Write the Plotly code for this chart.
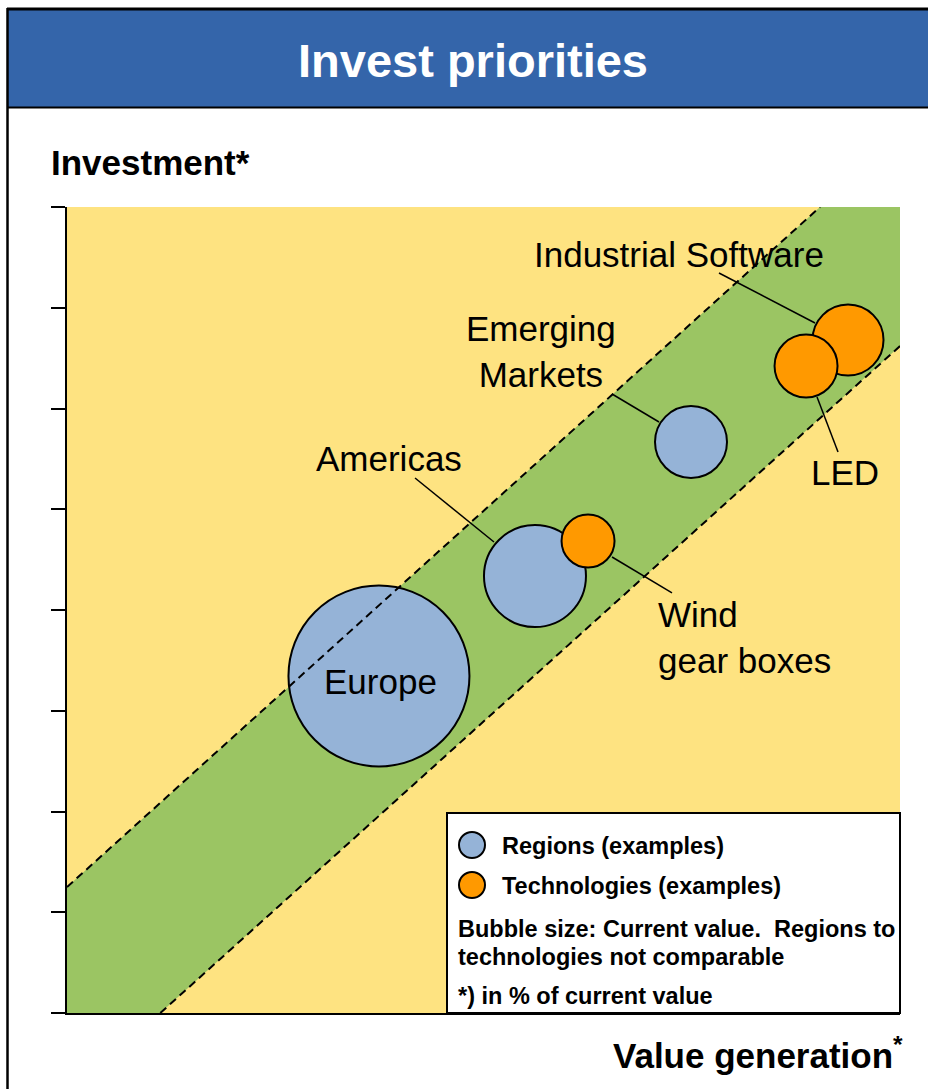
"""
Invest priorities - bubble chart of regions vs technologies.
Value generation (x) against investment (y), bubble size = current value.
"""

import plotly.graph_objects as go

# ---------------------------------------------------------------------------
# Data
# ---------------------------------------------------------------------------

X_MAX = 10.0
Y_MAX = 8.0
Y_TICKS = [0, 1, 2, 3, 4, 5, 6, 7, 8]

region_names = ["Europe", "Americas", "Emerging Markets"]
region_x = [3.745, 5.618, 7.491]
region_y = [3.345, 4.337, 5.667]
region_value = [181, 102, 72]

tech_names = ["Wind gear boxes", "Industrial Software", "LED"]
tech_x = [6.255, 9.376, 8.872]
tech_y = [4.685, 6.680, 6.422]
tech_value = [53, 71, 63]

# green "corridor" edges
band_upper_x = [0.0, 9.04]
band_upper_y = [1.25, 8.0]
band_lower_x = [1.12, 10.0]
band_lower_y = [0.0, 6.62]

# label text, anchor and leader line (label end -> bubble end)
labels = [
    ("Industrial Software", 7.347, 7.533, "center", (7.827, 7.345, 8.980, 6.849)),
    ("Emerging<br>Markets", 5.690, 6.561, "center", (6.543, 6.144, 7.107, 5.866)),
    ("Americas", 3.866, 5.499, "center", (4.178, 5.310, 5.126, 4.675)),
    ("Wind<br>gear boxes", 7.071, 3.732, "left", (6.543, 4.526, 7.263, 4.169)),
    ("LED", 9.340, 5.360, "center", (9.004, 6.114, 9.256, 5.568)),
    ("Europe", 3.758, 3.295, "center", None),
]

# ---------------------------------------------------------------------------
# Styling
# ---------------------------------------------------------------------------

FONT = "Liberation Sans, Arial, sans-serif"
YELLOW = "#FEE381"
GREEN = "#9BC563"
BLUE = "#95B3D7"
ORANGE = "#FF9900"
HEADER = "#3465AA"

# screen pixel geometry of the plot area
PLOT_L, PLOT_R, PLOT_T, PLOT_B = 67, 900, 207, 1013
FIG_W, FIG_H = 928, 1089


def px_x(sx: float) -> float:
    """Screen x pixel -> paper x."""
    return (sx - PLOT_L) / (PLOT_R - PLOT_L)


def px_y(sy: float) -> float:
    """Screen y pixel -> paper y."""
    return (PLOT_B - sy) / (PLOT_B - PLOT_T)


def paper_text(text, sx, sy, size, color="black", xanchor="left"):
    """Annotation placed in screen pixels (paper refs)."""
    fig.add_annotation(
        xref="paper", yref="paper", x=px_x(sx), y=px_y(sy),
        xanchor=xanchor, yanchor="middle", text=text, showarrow=False,
        font=dict(family=FONT, size=size, color=color),
    )


def paper_line(x0, y0, x1, y1, width):
    fig.add_shape(type="line", xref="paper", yref="paper",
                  x0=px_x(x0), x1=px_x(x1), y0=px_y(y0), y1=px_y(y1),
                  line=dict(color="black", width=width), layer="above")


fig = go.Figure()

# corridor polygon
poly_x = band_upper_x + [X_MAX] + band_lower_x[::-1] + [0.0]
poly_y = band_upper_y + [Y_MAX] + band_lower_y[::-1] + [0.0]
fig.add_trace(go.Scatter(
    x=poly_x, y=poly_y, fill="toself", fillcolor=GREEN,
    mode="lines", line=dict(width=0), hoverinfo="skip", showlegend=False,
))

# bubbles
fig.add_trace(go.Scatter(
    x=region_x, y=region_y, mode="markers", text=region_names,
    marker=dict(size=region_value, sizemode="diameter", sizeref=1,
                color=BLUE, opacity=1, line=dict(color="black", width=2)),
    showlegend=False, hoverinfo="text",
))
fig.add_trace(go.Scatter(
    x=tech_x, y=tech_y, mode="markers", text=tech_names,
    marker=dict(size=tech_value, sizemode="diameter", sizeref=1,
                color=ORANGE, opacity=1, line=dict(color="black", width=2)),
    showlegend=False, hoverinfo="text",
))

# dashed corridor edges on top of the bubbles
for ex, ey in ((band_upper_x, band_upper_y), (band_lower_x, band_lower_y)):
    fig.add_trace(go.Scatter(
        x=ex, y=ey, mode="lines",
        line=dict(color="black", width=2, dash="8px,5px"),
        hoverinfo="skip", showlegend=False,
    ))

# labels + leader lines
for text, lx, ly, align, leader in labels:
    fig.add_annotation(
        x=lx, y=ly, text=text, showarrow=False, xanchor=align,
        yanchor="middle", align=align,
        font=dict(family=FONT, size=35, color="black"),
    )
    if leader:
        x0, y0, x1, y1 = leader
        fig.add_shape(type="line", x0=x0, y0=y0, x1=x1, y1=y1,
                      line=dict(color="black", width=1.5), layer="above")

# header bar and frame
fig.add_shape(type="rect", xref="paper", yref="paper",
              x0=px_x(8), x1=px_x(FIG_W + 10),
              y0=px_y(107), y1=px_y(9),
              fillcolor=HEADER, line=dict(width=0), layer="below")
paper_line(8, 107.5, FIG_W + 10, 107.5, 2)
paper_line(7, 9, FIG_W + 10, 9, 3)
paper_line(7.5, 8, 7.5, FIG_H + 10, 2.5)

paper_text("<b>Invest priorities</b>", 473, 61, 47, "white", "center")
paper_text("<b>Investment*</b>", 49, 162, 35)
paper_text("<b>Value generation<sup>*</sup></b>", 905, 1053, 35,
           xanchor="right")

# custom legend box
fig.add_shape(type="rect", xref="paper", yref="paper",
              x0=px_x(447), x1=px_x(900), y0=px_y(1013), y1=px_y(813),
              fillcolor="white", line=dict(color="black", width=2),
              layer="above")
for sy, col, txt in ((845, BLUE, "Regions (examples)"),
                     (885, ORANGE, "Technologies (examples)")):
    fig.add_shape(type="circle", xref="paper", yref="paper",
                  xsizemode="pixel", ysizemode="pixel",
                  xanchor=px_x(472), yanchor=px_y(sy),
                  x0=-13, x1=13, y0=-13, y1=13,
                  fillcolor=col, line=dict(color="black", width=2),
                  layer="above")
    paper_text(f"<b>{txt}</b>", 500, sy + 1, 23.5)
for sy, txt in ((929, "Bubble size: Current value.\u00a0 Regions to"),
                (957, "technologies not comparable"),
                (996, "*) in % of current value")):
    paper_text(f"<b>{txt}</b>", 456, sy, 23.5)

fig.update_layout(
    width=FIG_W, height=FIG_H,
    margin=dict(l=PLOT_L, r=FIG_W - PLOT_R, t=PLOT_T, b=FIG_H - PLOT_B,
                pad=0),
    paper_bgcolor="white", plot_bgcolor=YELLOW,
    font=dict(family=FONT, color="black"),
    showlegend=False,
    xaxis=dict(range=[0, X_MAX], showgrid=False, zeroline=False,
               showline=True, linecolor="black", linewidth=2,
               ticks="", showticklabels=False, fixedrange=True),
    yaxis=dict(range=[0, Y_MAX], showgrid=False, zeroline=False,
               showline=True, linecolor="black", linewidth=2,
               tickvals=Y_TICKS, ticks="outside", ticklen=14, tickwidth=2,
               tickcolor="black", showticklabels=False, fixedrange=True),
)

# drop the browser's default 8px body margin so the figure fills the window
fig.write_html("out.html", config={"displayModeBar": False},
               post_script="document.body.style.margin = '0';")
